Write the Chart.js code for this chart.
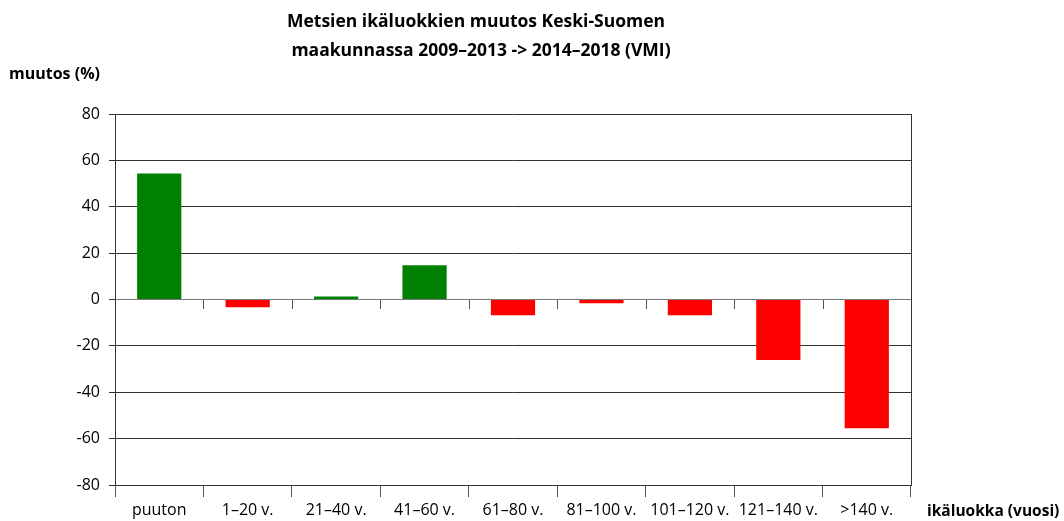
<!DOCTYPE html>
<html><head><meta charset="utf-8">
<script src="https://cdn.jsdelivr.net/npm/chart.js@4.4.1/dist/chart.umd.min.js"></script>
<style>html,body{margin:0;padding:0;background:#fff}#wrap{width:1064px;height:521px;position:relative}</style>
</head><body><div id="wrap"><canvas id="c" width="1064" height="521"></canvas></div>
<script>
const categories = ["puuton","1–20 v.","21–40 v.","41–60 v.","61–80 v.","81–100 v.","101–120 v.","121–140 v.",">140 v."];
const changes = [54.3, -3.3, 1.3, 14.8, -6.8, -1.6, -6.8, -26.1, -55.5];
const yTicks = [-80,-60,-40,-20,0,20,40,60,80];
const titleLines = ["Metsien ikäluokkien muutos Keski-Suomen","maakunnassa 2009–2013 -> 2014–2018 (VMI)"];
const yTitle = "muutos (%)";
const xTitle = "ikäluokka (vuosi)";

const FONT = "'Open Sans', sans-serif";
const LINE = '#333';

const deco = {
  id: 'deco',
  afterDraw(chart) {
    const ctx = chart.ctx, a = chart.chartArea, xs = chart.scales.x, ys = chart.scales.y;
    ctx.save();
    ctx.strokeStyle = LINE; ctx.lineWidth = 1;
    ctx.beginPath(); ctx.moveTo(Math.round(a.right)+0.5, a.top); ctx.lineTo(Math.round(a.right)+0.5, a.bottom); ctx.stroke();
    const y0 = Math.round(ys.getPixelForValue(0));
    ctx.strokeStyle = '#555';
    for (let i = 1; i < categories.length; i++) {
      const x = Math.round((xs.getPixelForValue(i-1) + xs.getPixelForValue(i)) / 2) + 0.5;
      ctx.beginPath(); ctx.moveTo(x, y0); ctx.lineTo(x, y0 + 9); ctx.stroke();
    }
    ctx.fillStyle = '#000';
    ctx.textAlign = 'center'; ctx.textBaseline = 'middle';
    ctx.font = "bold 17.5px " + FONT;
    ctx.fillText(titleLines[0], 476, 22);
    ctx.fillText(titleLines[1], 481, 51);
    ctx.font = "bold 16px " + FONT;
    ctx.textAlign = 'left';
    ctx.fillText(yTitle, 9, 74);
    ctx.font = "bold 15.5px " + FONT;
    ctx.fillText(xTitle, 927, 512);
    ctx.restore();
  }
};

new Chart(document.getElementById('c'), {
  type: 'bar',
  data: {
    labels: categories,
    datasets: [{
      data: changes,
      backgroundColor: changes.map(v => v >= 0 ? '#008000' : '#ff0000'),
      barPercentage: 0.5,
      categoryPercentage: 1.0,
      borderWidth: 0
    }]
  },
  options: {
    responsive: false,
    animation: false,
    devicePixelRatio: 1,
    layout: { padding: { top: 114, right: 153, left: 0, bottom: 0 } },
    plugins: { legend: { display: false }, tooltip: { enabled: false }, title: { display: false } },
    scales: {
      x: {
        offset: true,
        grid: { offset: true, drawOnChartArea: false, drawTicks: true, tickLength: 12, color: '#555', tickColor: '#555' },
        border: { display: true, color: LINE },
        ticks: { color: '#000', font: { family: FONT, size: 16 }, padding: 4, maxRotation: 0, autoSkip: false },
        afterFit(s) { s.height = 36; }
      },
      y: {
        min: -80, max: 80,
        afterBuildTicks(s) { s.ticks = yTicks.map(v => ({ value: v })); },
        grid: {
          color: ctx => ctx.tick && ctx.tick.value === 0 ? '#777' : LINE,
          lineWidth: 1, drawTicks: true, tickLength: 6, tickColor: LINE
        },
        border: { display: true, color: LINE },
        ticks: { color: '#000', font: { family: FONT, size: 16 }, padding: 9 },
        afterFit(s) { s.width = 115; }
      }
    }
  },
  plugins: [deco]
});
</script></body></html>
